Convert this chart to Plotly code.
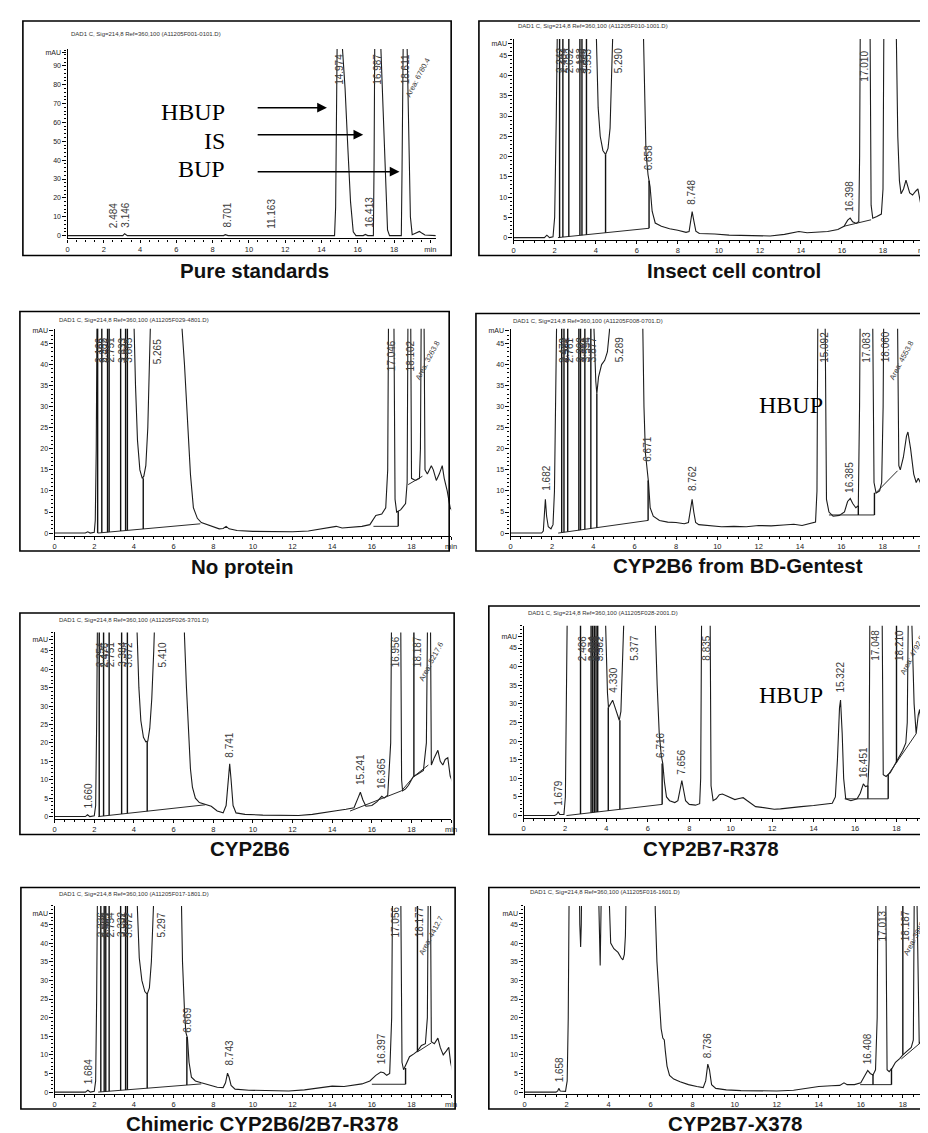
import plotly.graph_objects as go

W, H = 928, 1133

# ======================= DATA =======================
TITLES = ["Pure standards", "Insect cell control", "No protein", "CYP2B6 from BD-Gentest",
          "CYP2B6", "CYP2B7-R378", "Chimeric CYP2B6/2B7-R378", "CYP2B7-X378"]
RUN_IDS = ["DAD1 C, Sig=214,8 Ref=360,100 (A11205F001-0101.D)",
           "DAD1 C, Sig=214,8 Ref=360,100 (A11205F010-1001.D)",
           "DAD1 C, Sig=214,8 Ref=360,100 (A11205F029-4801.D)",
           "DAD1 C, Sig=214,8 Ref=360,100 (A11205F008-0701.D)",
           "DAD1 C, Sig=214,8 Ref=360,100 (A11205F026-3701.D)",
           "DAD1 C, Sig=214,8 Ref=360,100 (A11205F028-2001.D)",
           "DAD1 C, Sig=214,8 Ref=360,100 (A11205F017-1801.D)",
           "DAD1 C, Sig=214,8 Ref=360,100 (A11205F016-1601.D)"]

X_TICKS = [0, 2, 4, 6, 8, 10, 12, 14, 16, 18, 20]
X_TICKTEXT = ["0", "2", "4", "6", "8", "10", "12", "14", "16", "18", "min"]
Y_TICKS_STD = [0, 10, 20, 30, 40, 50, 60, 70, 80, 90, 97]
Y_TICKTEXT_STD = ["0", "10", "20", "30", "40", "50", "60", "70", "80", "90", "mAU"]
Y_TICKS = [0, 5, 10, 15, 20, 25, 30, 35, 40, 45, 48]
Y_TICKTEXT = ["0", "5", "10", "15", "20", "25", "30", "35", "40", "45", "mAU"]

# ---- Panel 1: Pure standards
P1_T = [0, 2.3, 2.48, 2.62, 3.05, 3.15, 3.3, 8.6, 8.7, 8.85, 11.1, 11.2, 11.3, 14.72, 14.78, 14.83,
        14.88, 15.15, 15.3, 15.45, 15.6, 15.75, 15.9, 16.3, 16.42, 16.55, 16.86, 16.9, 16.94, 17.0,
        17.27, 17.4, 17.52, 17.64, 17.75, 18.4, 18.44, 18.48, 18.52, 18.72, 18.82, 18.9, 19.0, 19.25,
        19.4, 19.55, 19.7, 20.3]
P1_A = [0, 0, 0.4, 0, 0, 1.0, 0, 0, 0.5, 0, 0, 0.4, 0, 0, 15, 60,
        120, 100, 78, 47, 18, 2, 0, 0, 0.6, 0, 0, 40, 110, 120,
        100, 66, 33, 3, 0, 0, 35, 100, 120, 100, 55, 10, 0.5, 1.5,
        2.2, 1.2, 0.3, 0]
P1_DROP_T, P1_DROP_LO, P1_DROP_HI = [], [], []
P1_BASE_T, P1_BASE_A = [], []
P1_LAB = ["2.484", "3.146", "8.701", "11.163", "14.974", "16.413", "16.987", "18.611"]
P1_LAB_T = [2.55, 3.18, 8.8, 11.27, 14.95, 16.64, 17.09, 18.64]
P1_LAB_Y = [3, 3, 3, 2.5, 79, 3, 79, 79]
P1_AREA = ("Area: 6780.4", 19.3, 84)
STD_NAMES = ["HBUP", "IS", "BUP"]
STD_TEXT_Y = [65.6, 50.3, 35.5]
STD_ARROW_Y = [67.8, 53.5, 33.9]
STD_ARROW_FROM = [10.4, 10.4, 10.4]
STD_ARROW_TO = [14.3, 16.3, 18.3]

# ---- Panel 2: Insect cell control
P2_T = [0, 1.5, 1.62, 1.75, 1.92, 2.0, 2.08, 2.15, 3.98, 4.04, 4.12, 4.22, 4.35, 4.48, 4.6, 4.7, 4.8,
        4.88, 5.0, 6.2, 6.32, 6.38, 6.45, 6.55, 6.65, 6.75, 6.9, 7.2, 7.6, 8.0, 8.4, 8.55, 8.63, 8.7,
        8.78, 8.88, 9.05, 9.8, 10.5, 11.5, 12.5, 13.2, 13.9, 14.3, 14.8, 15.3, 15.8, 16.1, 16.28, 16.4,
        16.52, 16.7, 16.82, 16.86, 16.9, 17.36, 17.42, 17.5, 17.7, 17.92, 18.0, 18.05, 18.62, 18.72,
        18.8, 18.88, 19.0, 19.12, 19.3, 19.44, 19.6, 19.7, 19.85, 20.0]
P2_A = [0, 0, 0.6, 0, 0.2, 5, 30, 60, 60, 45, 32, 25, 21.5, 20.5, 22, 27, 38,
        55, 80, 80, 49, 33, 21, 15.5, 12.5, 6.5, 3.6, 2.8, 2.2, 1.8, 1.3, 1.5, 4.5, 6.4,
        4.2, 1.6, 1.0, 0.9, 0.6, 0.5, 0.4, 0.8, 1.5, 1.2, 1.3, 1.5, 2.0, 2.8, 4.3, 4.8,
        3.9, 3.5, 4.0, 20, 60, 60, 8, 4.8, 5.2, 5.8, 12, 60, 60, 25,
        14, 10.8, 12, 14.2, 11, 10.5, 11.5, 12, 8, 5]
P2_DROP_T = [2.24, 2.40, 2.69, 3.23, 3.33, 3.55, 4.48, 6.6]
P2_DROP_LO = [0.04, 0.12, 0.27, 0.55, 0.6, 0.72, 1.2, 2.3]
P2_DROP_HI = [60, 60, 60, 60, 60, 60, 20.5, 14]
P2_BASE_T = [2.16, 6.6, None, 16.1, 17.42]
P2_BASE_A = [0, 2.3, None, 2.8, 4.4]
P2_LAB = ["2.242", "2.404", "2.692", "3.123", "3.336", "3.553", "5.290", "6.658", "8.748", "16.398", "17.010"]
P2_LAB_T = [2.31, 2.47, 2.76, 3.3, 3.4, 3.62, 5.15, 6.55, 8.7, 16.35, 17.1]
P2_LAB_Y = [40, 40, 40, 40, 40, 40, 40, 16, 7.5, 5.8, 38]
P2_AREA = None

# ---- Panel 3: No protein
P3_T = [0, 1.55, 1.67, 1.8, 2.0, 2.05, 2.1, 2.15, 3.95, 4.0, 4.08, 4.18, 4.3, 4.42, 4.5, 4.6, 4.7, 4.78,
        4.83, 5.0, 6.3, 6.42, 6.55, 6.7, 6.85, 7.0, 7.2, 7.4, 7.7, 8.0, 8.3, 8.5, 8.65, 8.8, 9.2, 10.0,
        11.0, 12.0, 12.8, 13.3, 13.8, 14.2, 14.5, 15.0, 15.5, 15.9, 16.05, 16.2, 16.5, 16.7, 16.8, 16.85,
        17.1, 17.17, 17.25, 17.45, 17.7, 17.78, 17.83, 17.95, 18.0, 18.2, 18.4, 18.45, 18.5, 18.62,
        18.68, 18.8, 19.0, 19.1, 19.25, 19.4, 19.55, 19.65, 19.8, 19.95, 20.1]
P3_A = [0, 0, 0.3, 0, 0.2, 3, 20, 60, 60, 49, 35, 22, 15, 13, 13.5, 16, 25, 40,
        55, 80, 80, 49, 40, 28, 14, 6, 3.5, 2.5, 2, 1.5, 1.0, 1.1, 1.6, 1.0, 0.6, 0.4,
        0.4, 0.3, 0.5, 0.9, 1.2, 1.6, 1.2, 1.4, 1.6, 2.0, 3, 4.2, 4.5, 6, 15, 60,
        60, 8, 5, 5.5, 7, 12, 60, 60, 13, 12.5, 13, 20, 60, 60,
        15, 14, 16, 15, 12.5, 14, 16, 13, 10, 6, 5]
P3_DROP_T = [2.17, 2.38, 2.67, 2.75, 3.33, 3.58, 3.67, 4.47, 17.33]
P3_DROP_LO = [0, 0.09, 0.21, 0.25, 0.49, 0.6, 0.64, 0.98, 1.6]
P3_DROP_HI = [60, 60, 60, 60, 60, 60, 60, 13, 5.2]
P3_BASE_T = [2.17, 7.35, None, 16.08, 17.33, None, 17.83, 18.55]
P3_BASE_A = [0, 2.2, None, 1.6, 1.6, None, 11.5, 13.5]
P3_LAB = ["2.166", "2.382", "2.672", "2.751", "3.333", "3.577", "3.665", "5.265", "17.046", "18.102"]
P3_LAB_T = [2.23, 2.44, 2.62, 2.81, 3.39, 3.52, 3.73, 5.17, 17.0, 17.97]
P3_LAB_Y = [40, 40, 40, 40, 40, 40, 40, 39.5, 38, 38]
P3_AREA = ("Area: 3263.8", 18.8, 41)

# ---- Panel 4: CYP2B6 from BD-Gentest
P4_T = [0, 1.5, 1.58, 1.63, 1.68, 1.74, 1.82, 1.95, 2.05, 2.12, 2.2, 2.25, 3.95, 4.05, 4.12, 4.17, 4.25,
        4.4, 4.55, 4.68, 4.78, 4.86, 5.0, 6.3, 6.38, 6.45, 6.52, 6.6, 6.67, 6.75, 6.9, 7.2, 7.6, 8.0,
        8.4, 8.6, 8.7, 8.78, 8.86, 8.95, 9.1, 9.6, 10.2, 10.8, 11.4, 12.0, 12.6, 13.2, 13.7, 14.1, 14.5,
        14.75, 14.82, 14.87, 15.2, 15.28, 15.4, 15.6, 15.9, 16.15, 16.3, 16.43, 16.55, 16.7, 16.82,
        16.88, 16.92, 17.5, 17.58, 17.68, 17.85, 17.95, 18.02, 18.06, 18.7, 18.78, 18.85, 19.0, 19.15,
        19.22, 19.35, 19.5, 19.62, 19.72, 19.82, 19.95, 20.1]
P4_A = [0, 0, 0.5, 5, 8, 4, 1.5, 1, 2, 10, 40, 60, 60, 45, 36, 33, 37,
        40, 41, 43, 48, 60, 80, 80, 49, 30, 19, 16, 12, 6, 4, 3, 2.6, 2.5,
        2.2, 2.5, 6, 8, 5, 2.5, 2.0, 1.8, 1.5, 1.6, 1.5, 1.8, 1.7, 1.9, 2.1, 1.8, 2.2,
        2.6, 10, 60, 60, 8, 5, 4, 4.2, 5, 7.5, 8.2, 7, 6, 6.5,
        30, 60, 60, 12, 9.5, 10, 12, 30, 60, 60, 16, 15, 18, 23,
        24, 20, 14, 12, 13, 12, 8, 6]
P4_DROP_T = [2.47, 2.58, 2.76, 3.3, 3.38, 3.59, 3.88, 4.17, 6.65, 16.82, 17.6]
P4_DROP_LO = [0.12, 0.19, 0.32, 0.69, 0.74, 0.89, 1.09, 1.29, 3.0, 4.3, 4.3]
P4_DROP_HI = [60, 60, 60, 60, 60, 60, 60, 33, 12.5, 6.5, 9.6]
P4_BASE_T = [2.3, 6.65, None, 15.4, 17.6, None, 17.68, 18.72]
P4_BASE_A = [0, 3.0, None, 4.3, 4.3, None, 9.6, 14.8]
P4_LAB = ["1.682", "2.472", "2.582", "2.761", "3.302", "3.382", "3.594", "3.877", "5.289", "6.671",
          "8.762", "15.092", "16.385", "17.083", "18.060"]
P4_LAB_T = [1.72, 2.53, 2.64, 2.82, 3.36, 3.44, 3.65, 3.94, 5.25, 6.58,
            8.8, 15.15, 16.38, 17.18, 18.12]
P4_LAB_Y = [9.5, 40, 40, 40, 40, 40, 40, 40, 40, 16.5,
            9.5, 40, 9, 40, 40]
P4_AREA = ("Area: 4553.8", 18.9, 41)
P4_NOTE = ("HBUP", 13.55, 30.3)

# ---- Panel 5: CYP2B6
P5_T = [0, 1.55, 1.66, 1.78, 2.0, 2.07, 2.12, 2.17, 4.1, 4.17, 4.25, 4.35, 4.48, 4.6, 4.7, 4.8, 4.9,
        5.0, 5.08, 5.2, 6.45, 6.55, 6.65, 6.75, 6.85, 6.95, 7.1, 7.3, 7.6, 7.9, 8.2, 8.5, 8.65, 8.75,
        8.83, 8.9, 9.0, 9.15, 9.6, 10.5, 11.5, 12.3, 13.0, 13.6, 14.2, 14.7, 15.1, 15.3, 15.42, 15.55,
        15.7, 16.0, 16.25, 16.5, 16.62, 16.8, 16.95, 17.0, 17.45, 17.5, 17.55, 17.7, 17.85, 18.0,
        18.08, 18.3, 18.6, 18.75, 18.82, 18.95, 19.0, 19.15, 19.33, 19.45, 19.58, 19.7, 19.83, 19.95, 20.1]
P5_A = [0, 0, 0.5, 0, 0.2, 3, 25, 60, 60, 48, 35, 26, 21.5, 20.3, 20.5, 24, 32,
        45, 60, 80, 80, 49, 35, 22, 13, 8, 5, 3.8, 3.2, 2.8, 1.5, 1.0, 3, 10,
        14.3, 10, 3, 1.0, 0.6, 0.4, 0.3, 0.3, 0.6, 1.2, 1.6, 2.0, 2.4, 5, 6.6, 4.5,
        2.8, 3.0, 4, 5.5, 5, 5.8, 20, 60, 60, 10, 7, 7.5, 8.5, 10,
        10.8, 11.5, 12.5, 20, 60, 60, 14, 16, 18, 15, 14, 15.5, 16, 11, 9]
P5_DROP_T = [2.25, 2.47, 2.75, 3.38, 3.67, 4.67, 18.12]
P5_DROP_LO = [0.03, 0.16, 0.33, 0.7, 0.87, 1.46, 10.9]
P5_DROP_HI = [60, 60, 60, 60, 60, 20.4, 60]
P5_BASE_T = [2.2, 7.6, None, 14.9, 17.5, 18.12, 18.85]
P5_BASE_A = [0, 3.2, None, 1.5, 7.0, 10.9, 14.0]
P5_LAB = ["1.660", "2.254", "2.476", "2.751", "3.384", "3.672", "5.410", "8.741", "15.241", "16.365",
          "16.956", "18.187"]
P5_LAB_T = [1.7, 2.32, 2.54, 2.82, 3.45, 3.74, 5.45, 8.83, 15.42, 16.5, 17.2, 18.3]
P5_LAB_Y = [1.6, 40, 40, 40, 40, 40, 40, 15.5, 8, 7, 40, 40]
P5_AREA = ("Area: 5217.6", 19.0, 42)

# ---- Panel 6: CYP2B7-R378
P6_T = [0, 1.5, 1.6, 1.67, 1.75, 1.95, 2.02, 2.07, 2.12, 3.92, 3.98, 4.05, 4.1, 4.2, 4.3, 4.42, 4.55,
        4.62, 4.7, 4.76, 4.82, 5.0, 6.3, 6.37, 6.45, 6.55, 6.65, 6.72, 6.8, 6.9, 7.05, 7.3, 7.45, 7.55,
        7.64, 7.72, 7.82, 8.0, 8.3, 8.5, 8.55, 8.6, 9.0, 9.05, 9.15, 9.3, 9.45, 9.6, 9.8, 10.0, 10.2,
        10.4, 10.6, 10.8, 11.0, 11.2, 11.5, 11.8, 12.1, 12.4, 12.8, 13.4, 14.0, 14.5, 14.9, 15.05,
        15.15, 15.25, 15.3, 15.38, 15.45, 15.55, 15.8, 16.1, 16.25, 16.4, 16.5, 16.62, 16.68, 16.72,
        17.3, 17.36, 17.5, 17.7, 17.9, 18.1, 18.3, 18.45, 18.52, 18.58, 18.7, 18.85, 18.95, 19.05,
        19.12, 19.2, 19.35, 19.5, 19.6]
P6_A = [0, 0, 0.3, 1.0, 0.3, 0.3, 5, 30, 60, 60, 45, 33, 29, 30, 31, 29, 26.5,
        25.6, 28, 38, 60, 80, 80, 49, 35, 22, 16, 14, 9, 5, 4, 3.5, 4, 7.5,
        9.4, 7, 4, 3.0, 2.8, 3.2, 10, 60, 60, 8, 4, 4.5, 5.6, 5.8, 5.3, 4.6, 4.3,
        4.6, 4.8, 4.0, 3.2, 2.4, 2.2, 2.0, 1.7, 1.8, 2.1, 2.4, 2.7, 3.0, 3.3, 5,
        15, 29, 31, 22, 10, 4.5, 4, 4.5, 6, 8.5, 7.8, 8, 15, 60,
        60, 11, 10.5, 11.5, 13.5, 15.5, 17.5, 19.5, 25, 60, 60, 30, 22, 27,
        28.5, 24, 16, 12, 11]
P6_DROP_T = [2.75, 3.26, 3.34, 3.42, 3.5, 3.58, 4.09, 4.65, 6.69, 16.62, 17.6, 18.0]
P6_DROP_LO = [0.44, 0.77, 0.82, 0.88, 0.93, 0.98, 1.31, 1.67, 3.0, 4.5, 4.5, 14.2]
P6_DROP_HI = [60, 60, 60, 60, 60, 60, 29, 25.6, 14, 8, 11, 60]
P6_BASE_T = [2.07, 6.69, None, 15.5, 17.6, None, 17.6, 18.95]
P6_BASE_A = [0, 3.0, None, 4.5, 4.5, None, 11, 22]
P6_LAB = ["1.679", "2.486", "3.074", "3.262", "3.345", "3.504", "3.582", "4.330", "5.377", "6.716",
          "7.656", "8.835", "15.322", "16.451", "17.048", "18.210"]
P6_LAB_T = [1.67, 2.86, 3.3, 3.38, 3.46, 3.54, 3.64, 4.3, 5.35, 6.62,
            7.64, 8.82, 15.3, 16.4, 16.98, 18.15]
P6_LAB_Y = [2, 41, 41, 41, 41, 41, 41, 32.5, 41, 15,
            10.5, 41, 32.5, 9.5, 41, 41]
P6_AREA = ("Area: 4792.5", 18.75, 43)
P6_NOTE = ("HBUP", 12.9, 32.4)

# ---- Panel 7: Chimeric CYP2B6/2B7-R378
P7_T = [0, 1.55, 1.68, 1.8, 2.0, 2.07, 2.12, 2.17, 4.1, 4.17, 4.27, 4.4, 4.55, 4.67, 4.78, 4.88, 4.95,
        5.0, 5.2, 6.3, 6.38, 6.45, 6.55, 6.62, 6.7, 6.78, 6.9, 7.1, 7.4, 7.8, 8.2, 8.5, 8.62, 8.72, 8.8,
        8.9, 9.1, 9.8, 10.8, 11.8, 12.6, 13.3, 14.0, 14.6, 15.1, 15.5, 15.9, 16.2, 16.45, 16.6, 16.75,
        16.9, 17.0, 17.05, 17.45, 17.52, 17.6, 17.75, 17.9, 18.1, 18.3, 18.5, 18.7, 18.8, 18.85, 18.95,
        19.0, 19.15, 19.33, 19.45, 19.6, 19.75, 19.88, 19.97, 20.1]
P7_A = [0, 0, 0.5, 0, 0.2, 3, 25, 60, 60, 48, 36, 30, 27, 26.3, 28, 35, 48,
        60, 80, 80, 49, 35, 22, 16, 14.5, 8, 4, 3, 2.5, 2.0, 1.3, 1.2, 2.5, 5.1, 4,
        1.8, 0.8, 0.5, 0.3, 0.3, 0.6, 1.0, 1.6, 1.5, 1.9, 2.2, 3.0, 4.5, 5.4, 5.2, 4.5,
        5, 20, 60, 60, 8, 6, 8, 9.5, 10.2, 11, 12.5, 13, 20, 60, 60,
        13.5, 13, 14.5, 12, 10, 11, 12, 8, 5]
P7_DROP_T = [2.33, 2.5, 2.58, 2.75, 3.33, 3.58, 3.67, 4.67, 6.67, 17.7, 18.3]
P7_DROP_LO = [0.06, 0.13, 0.16, 0.23, 0.48, 0.58, 0.62, 1.04, 1.89, 2.1, 10.8]
P7_DROP_HI = [60, 60, 60, 60, 60, 60, 60, 26.3, 14.8, 6.5, 60]
P7_BASE_T = [2.2, 7.4, None, 16.0, 17.7, None, 18.3, 19.0]
P7_BASE_A = [0, 2.2, None, 2.1, 2.1, None, 10.8, 13.2]
P7_LAB = ["1.684", "2.336", "2.504", "2.583", "2.754", "3.332", "3.581", "3.672", "5.297", "6.669",
          "8.743", "16.397", "17.056", "18.177"]
P7_LAB_T = [1.72, 2.4, 2.52, 2.64, 2.82, 3.4, 3.56, 3.74, 5.4, 6.72,
            8.8, 16.5, 17.2, 18.4]
P7_LAB_Y = [1.6, 41, 41, 41, 41, 41, 41, 41, 41, 15.5,
            6.5, 7, 41, 41]
P7_AREA = ("Area: 4412.7", 19.0, 42)

# ---- Panel 8: CYP2B7-X378
P8_T = [0, 1.5, 1.58, 1.63, 1.7, 1.95, 2.03, 2.08, 2.13, 2.6, 2.63, 2.67, 2.7, 2.73, 3.5, 3.56, 3.6,
        3.63, 3.67, 3.98, 4.05, 4.1, 4.25, 4.45, 4.6, 4.68, 4.75, 4.8, 4.85, 5.0, 6.15, 6.22, 6.3, 6.4,
        6.5, 6.58, 6.65, 6.7, 6.78, 6.9, 7.1, 7.4, 7.8, 8.2, 8.5, 8.62, 8.72, 8.8, 8.9, 9.1, 9.6, 10.3,
        11.2, 12.0, 12.8, 13.5, 14.0, 14.6, 15.0, 15.2, 15.35, 15.7, 16.0, 16.2, 16.33, 16.45, 16.58,
        16.7, 16.78, 16.82, 17.18, 17.25, 17.35, 17.5, 17.65, 17.85, 18.0, 18.2, 18.4, 18.5, 18.55,
        18.65, 18.78, 18.9, 19.03, 19.12, 19.3]
P8_A = [0, 0, 0.3, 1, 0.3, 0.2, 3, 20, 60, 60, 45, 39, 45, 60, 60, 45, 34,
        45, 60, 60, 45, 40, 38.5, 37.5, 36, 35.5, 37, 42, 60, 80, 80, 49, 35, 25,
        17, 14.5, 14, 11, 7, 4.5, 3.5, 2.8, 2.0, 1.5, 1.2, 3, 7.5, 6, 2, 1.0, 0.6, 0.4,
        0.3, 0.3, 0.5, 1.0, 1.5, 1.7, 1.8, 2.5, 2.0, 2.0, 2.5, 4.5, 5.8, 5, 4.6,
        6, 20, 60, 60, 6, 5.5, 6.5, 8, 9, 10, 11, 12, 14, 60,
        60, 13, 14, 15, 14, 12]
P8_DROP_T = [16.58, 17.46, 18.0]
P8_DROP_LO = [2.0, 2.0, 10.0]
P8_DROP_HI = [4.6, 6.3, 60]
P8_BASE_T = [15.97, 17.46, None, 17.93, 18.87]
P8_BASE_A = [2.0, 2.0, None, 8.9, 13.4]
P8_LAB = ["1.658", "8.736", "16.408", "17.013", "18.187"]
P8_LAB_T = [1.65, 8.74, 16.33, 17.05, 18.13]
P8_LAB_Y = [2, 8.5, 7, 40, 40]
P8_AREA = ("Area: 3988.1", 18.62, 42)

# ======================= LAYOUT GEOMETRY (pixels) =======================
GEOM = [
    dict(x0=58, ppm=18.3, xmax=20.3, y0=227, ppu=1.889, ymax=99, ymin=-1.5, box=(13, 12, 445, 247), lab=(247, 262, "middle"), ttl=(60, 25), big=True),
    dict(x0=508, ppm=20.7, xmax=20.0, y0=229, ppu=4.06, ymax=49, ymin=-0.6, box=(473, 12, 927, 247), lab=(730, 262, "middle"), ttl=(510, 17)),
    dict(x0=45, ppm=20.0, xmax=20.0, y0=525, ppu=4.22, ymax=48.5, ymin=-0.6, box=(10, 303, 443, 543), lab=(235, 558, "middle"), ttl=(47, 312)),
    dict(x0=505, ppm=20.85, xmax=20.0, y0=525, ppu=4.22, ymax=48.5, ymin=-0.6, box=(470, 305, 925, 543), lab=(734, 557, "middle"), ttl=(505, 313)),
    dict(x0=45, ppm=20.0, xmax=20.0, y0=809, ppu=3.69, ymax=50, ymin=-0.6, box=(10, 605, 448, 827), lab=(242, 841, "middle"), ttl=(47, 612)),
    dict(x0=518, ppm=20.9, xmax=(928 - 518) / 20.9, y0=808, ppu=3.73, ymax=51, ymin=-0.6, box=(483, 598, 940, 827), lab=(707, 841, "middle"), ttl=(520, 605)),
    dict(x0=45, ppm=20.0, xmax=20.0, y0=1085, ppu=3.73, ymax=50, ymin=-0.6, box=(11, 880, 449, 1102), lab=(254, 1116, "middle"), ttl=(47, 887)),
    dict(x0=519, ppm=21.2, xmax=(928 - 519) / 21.2, y0=1085, ppu=3.73, ymax=50, ymin=-0.6, box=(483, 880, 940, 1102), lab=(731, 1116, "middle"), ttl=(522, 885)),
]

PANEL_DATA = [
    (P1_T, P1_A, P1_DROP_T, P1_DROP_LO, P1_DROP_HI, P1_BASE_T, P1_BASE_A, P1_LAB, P1_LAB_T, P1_LAB_Y, P1_AREA, None),
    (P2_T, P2_A, P2_DROP_T, P2_DROP_LO, P2_DROP_HI, P2_BASE_T, P2_BASE_A, P2_LAB, P2_LAB_T, P2_LAB_Y, P2_AREA, None),
    (P3_T, P3_A, P3_DROP_T, P3_DROP_LO, P3_DROP_HI, P3_BASE_T, P3_BASE_A, P3_LAB, P3_LAB_T, P3_LAB_Y, P3_AREA, None),
    (P4_T, P4_A, P4_DROP_T, P4_DROP_LO, P4_DROP_HI, P4_BASE_T, P4_BASE_A, P4_LAB, P4_LAB_T, P4_LAB_Y, P4_AREA, P4_NOTE),
    (P5_T, P5_A, P5_DROP_T, P5_DROP_LO, P5_DROP_HI, P5_BASE_T, P5_BASE_A, P5_LAB, P5_LAB_T, P5_LAB_Y, P5_AREA, None),
    (P6_T, P6_A, P6_DROP_T, P6_DROP_LO, P6_DROP_HI, P6_BASE_T, P6_BASE_A, P6_LAB, P6_LAB_T, P6_LAB_Y, P6_AREA, P6_NOTE),
    (P7_T, P7_A, P7_DROP_T, P7_DROP_LO, P7_DROP_HI, P7_BASE_T, P7_BASE_A, P7_LAB, P7_LAB_T, P7_LAB_Y, P7_AREA, None),
    (P8_T, P8_A, P8_DROP_T, P8_DROP_LO, P8_DROP_HI, P8_BASE_T, P8_BASE_A, P8_LAB, P8_LAB_T, P8_LAB_Y, P8_AREA, None),
]

SANS = "Liberation Sans, Arial, sans-serif"
SERIF = "Liberation Serif, Times New Roman, serif"
INK = "#1c1c1c"
TICK_INK = "#222222"

fig = go.Figure()
layout = dict(width=W, height=H, margin=dict(l=0, r=0, t=0, b=0), showlegend=False,
              paper_bgcolor="white", plot_bgcolor="white")
annotations = []
shapes = []

def px2x(p):
    return p / W

def px2y(p):
    return 1 - p / H

for i, (g, d) in enumerate(zip(GEOM, PANEL_DATA)):
    (t, a, dt, dlo, dhi, bt, ba, lab, lab_t, lab_y, area, note) = d
    assert len(t) == len(a), (i, len(t), len(a))
    assert len(lab) == len(lab_t) == len(lab_y), i
    assert len(dt) == len(dlo) == len(dhi), i
    n = "" if i == 0 else str(i + 1)
    xa, ya = "x" + n, "y" + n
    xr = min(g["x0"] + g["ppm"] * g["xmax"], W)
    bottom = g["y0"] - g["ymin"] * g["ppu"]
    top = g["y0"] - g["ymax"] * g["ppu"]
    big = g.get("big", False)
    layout["xaxis" + n] = dict(
        domain=[px2x(g["x0"]), px2x(xr)], range=[0, g["xmax"]], anchor=ya,
        showgrid=False, zeroline=False, showline=True, linecolor="black", linewidth=1.3,
        tickmode="array", tickvals=X_TICKS, ticktext=X_TICKTEXT, ticks="outside", ticklen=3,
        tickwidth=1, tickcolor="black", tickfont=dict(size=7.5, color=TICK_INK, family=SANS),
        minor=dict(dtick=0.5, ticks="outside", ticklen=2, tickcolor="black", tickwidth=0.8),
        fixedrange=True)
    layout["yaxis" + n] = dict(
        domain=[px2y(bottom), px2y(top)], range=[g["ymin"], g["ymax"]], anchor=xa,
        showgrid=False, zeroline=False, showline=True, linecolor="black", linewidth=1.3,
        tickmode="array", tickvals=Y_TICKS_STD if big else Y_TICKS,
        ticktext=Y_TICKTEXT_STD if big else Y_TICKTEXT, ticks="outside", ticklen=4,
        tickwidth=1, tickcolor="black", tickfont=dict(size=7, color=TICK_INK, family=SANS),
        minor=dict(dtick=2 if big else 1, ticks="outside", ticklen=2.5, tickcolor="black", tickwidth=0.8),
        fixedrange=True)
    fig.add_trace(go.Scatter(x=t, y=a, mode="lines", xaxis=xa, yaxis=ya,
                             line=dict(color=INK, width=1.1), hoverinfo="skip"))
    if bt:
        fig.add_trace(go.Scatter(x=bt, y=ba, mode="lines", xaxis=xa, yaxis=ya,
                                 line=dict(color="#2a2a2a", width=1), hoverinfo="skip"))
    if dt:
        xs, ys = [], []
        for tt, lo, hi in zip(dt, dlo, dhi):
            xs += [tt, tt, None]
            ys += [lo, hi, None]
        fig.add_trace(go.Scatter(x=xs, y=ys, mode="lines", xaxis=xa, yaxis=ya,
                                 line=dict(color="#111", width=1.4), hoverinfo="skip"))
    for txt, tt, yy in zip(lab, lab_t, lab_y):
        annotations.append(dict(x=tt, y=yy, xref=xa, yref=ya, text=txt, showarrow=False,
                                textangle=-90, xanchor="center", yanchor="bottom",
                                font=dict(size=10, color="#3a3a3a", family=SANS)))
    if area:
        annotations.append(dict(x=area[1], y=area[2], xref=xa, yref=ya, text=area[0], showarrow=False,
                                textangle=-62, xanchor="center", yanchor="middle",
                                font=dict(size=7.5, color="#3a3a3a", family=SANS)))
    if note:
        annotations.append(dict(x=note[1], y=note[2], xref=xa, yref=ya, text=note[0], showarrow=False,
                                xanchor="center", yanchor="middle",
                                font=dict(size=24, color="black", family=SERIF)))
    l, tp, r, b = g["box"]
    shapes.append(dict(type="rect", xref="paper", yref="paper", x0=px2x(l), x1=px2x(r),
                       y0=px2y(b), y1=px2y(tp), line=dict(color="black", width=1.6)))
    annotations.append(dict(x=px2x(g["ttl"][0]), y=px2y(g["ttl"][1]), xref="paper", yref="paper",
                            text=RUN_IDS[i], showarrow=False, xanchor="left", yanchor="middle",
                            font=dict(size=6, color="#333", family=SANS)))
    annotations.append(dict(x=px2x(g["lab"][0]), y=px2y(g["lab"][1]), xref="paper", yref="paper",
                            text="<b>" + TITLES[i] + "</b>", showarrow=False,
                            xanchor="center", yanchor=g["lab"][2], borderpad=0,
                            font=dict(size=20.5, color="#111", family=SANS)))

for name, ty, ay, x_from, x_to in zip(STD_NAMES, STD_TEXT_Y, STD_ARROW_Y, STD_ARROW_FROM, STD_ARROW_TO):
    annotations.append(dict(x=8.8, y=ty, xref="x", yref="y", text=name, showarrow=False,
                            xanchor="right", yanchor="middle",
                            font=dict(size=24, color="black", family=SERIF)))
    annotations.append(dict(x=x_to, y=ay, xref="x", yref="y", ax=x_from, ay=ay, axref="x", ayref="y",
                            text="", showarrow=True, arrowhead=2, arrowsize=1.3, arrowwidth=1.5,
                            arrowcolor="black"))

layout["annotations"] = annotations
layout["shapes"] = shapes
fig.update_layout(**layout)
fig.write_html("out.html")
